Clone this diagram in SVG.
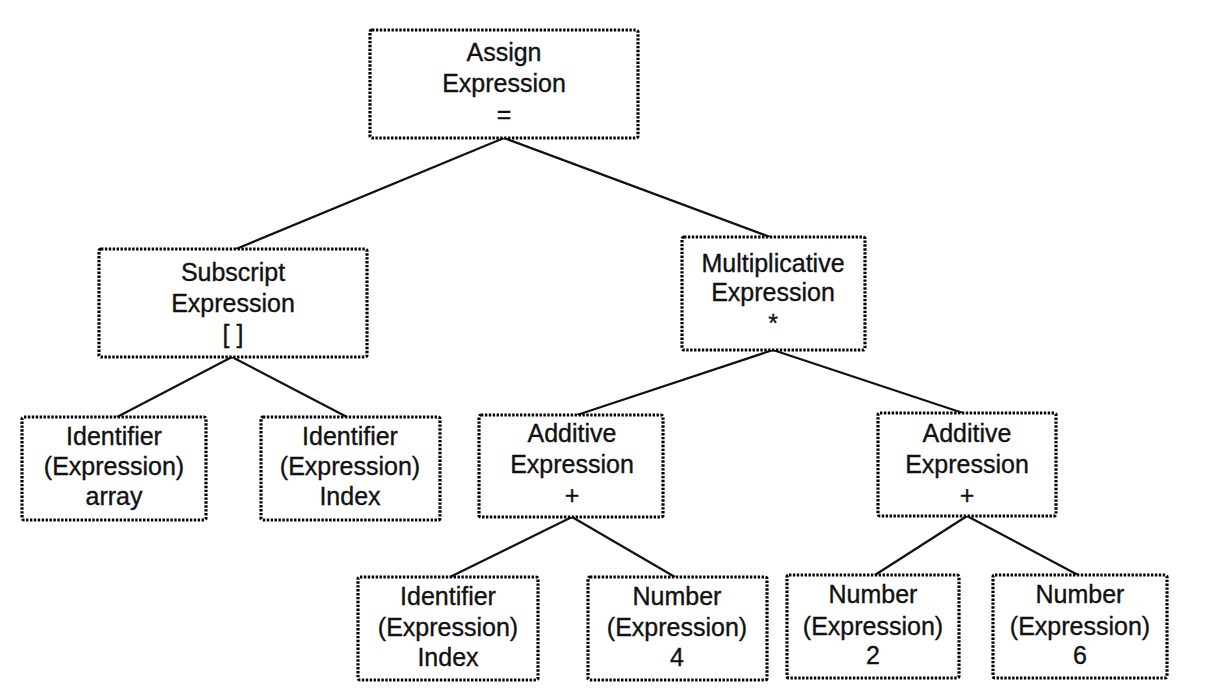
<svg xmlns="http://www.w3.org/2000/svg" width="1218" height="690" viewBox="0 0 1218 690">
<style>
.box{fill:#fff;stroke:#000;stroke-width:3.2;stroke-dasharray:2.4 1.5}
.t{font-family:"Liberation Sans",Arial,sans-serif;font-size:25px;fill:#111;stroke:#111;stroke-width:0.35;text-anchor:middle}
.edge{stroke:#111;stroke-width:2.2;fill:none}
</style>
<rect width="1218" height="690" fill="#fff"/>
<g id="connectors">
<line class="edge" x1="504" y1="138" x2="236" y2="249"/>
<line class="edge" x1="504" y1="138" x2="770" y2="237"/>
<line class="edge" x1="232" y1="357" x2="117" y2="417"/>
<line class="edge" x1="232" y1="357" x2="347" y2="417"/>
<line class="edge" x1="773" y1="350" x2="577" y2="415"/>
<line class="edge" x1="773" y1="350" x2="963" y2="413"/>
<line class="edge" x1="572" y1="517" x2="450" y2="577"/>
<line class="edge" x1="572" y1="517" x2="675" y2="577"/>
<line class="edge" x1="967" y1="516" x2="875" y2="575"/>
<line class="edge" x1="967" y1="516" x2="1078" y2="575"/>
</g>
<g id="assign">
<rect class="box" x="370" y="30" width="268" height="108" rx="2"/>
<text class="t" x="504" y="61">Assign</text>
<text class="t" x="504" y="92">Expression</text>
<text class="t" x="504" y="123">=</text>
</g>
<g id="subscript">
<rect class="box" x="99" y="249" width="268" height="108" rx="2"/>
<text class="t" x="233" y="281">Subscript</text>
<text class="t" x="233" y="312">Expression</text>
<text class="t" x="233" y="343">[ ]</text>
</g>
<g id="multiplicative">
<rect class="box" x="682" y="237" width="183" height="113" rx="2"/>
<text class="t" x="773" y="272">Multiplicative</text>
<text class="t" x="773" y="301">Expression</text>
<text class="t" x="773" y="332">*</text>
</g>
<g id="ident-array">
<rect class="box" x="22" y="417" width="184" height="103" rx="2"/>
<text class="t" x="114" y="445">Identifier</text>
<text class="t" x="114" y="475">(Expression)</text>
<text class="t" x="114" y="505">array</text>
</g>
<g id="ident-index1">
<rect class="box" x="261" y="417" width="179" height="103" rx="2"/>
<text class="t" x="350" y="445">Identifier</text>
<text class="t" x="350" y="475">(Expression)</text>
<text class="t" x="350" y="505">Index</text>
</g>
<g id="additive1">
<rect class="box" x="479" y="415" width="184" height="102" rx="2"/>
<text class="t" x="572" y="442">Additive</text>
<text class="t" x="572" y="473">Expression</text>
<text class="t" x="572" y="504">+</text>
</g>
<g id="additive2">
<rect class="box" x="878" y="413" width="178" height="103" rx="2"/>
<text class="t" x="967" y="442">Additive</text>
<text class="t" x="967" y="473">Expression</text>
<text class="t" x="967" y="504">+</text>
</g>
<g id="ident-index2">
<rect class="box" x="358" y="577" width="180" height="103" rx="2"/>
<text class="t" x="448" y="605">Identifier</text>
<text class="t" x="448" y="636">(Expression)</text>
<text class="t" x="448" y="666">Index</text>
</g>
<g id="number4">
<rect class="box" x="588" y="577" width="179" height="103" rx="2"/>
<text class="t" x="677" y="605">Number</text>
<text class="t" x="677" y="636">(Expression)</text>
<text class="t" x="677" y="666">4</text>
</g>
<g id="number2">
<rect class="box" x="787" y="575" width="172" height="103" rx="2"/>
<text class="t" x="873" y="603">Number</text>
<text class="t" x="873" y="635">(Expression)</text>
<text class="t" x="873" y="664">2</text>
</g>
<g id="number6">
<rect class="box" x="993" y="575" width="174" height="103" rx="2"/>
<text class="t" x="1080" y="603">Number</text>
<text class="t" x="1080" y="635">(Expression)</text>
<text class="t" x="1080" y="664">6</text>
</g>
</svg>
